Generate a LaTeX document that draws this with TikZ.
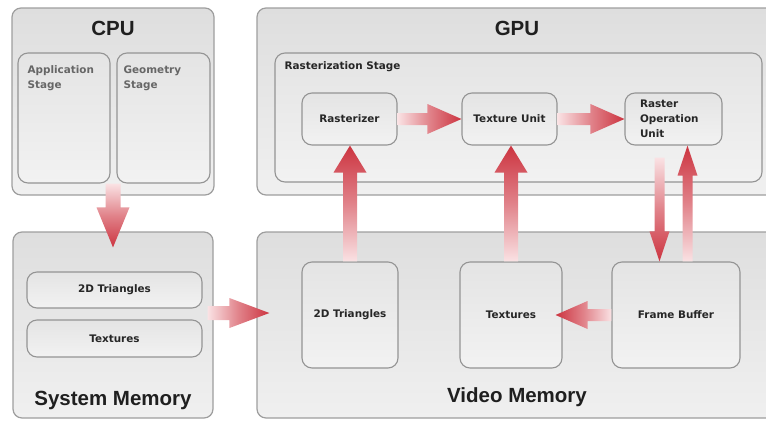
\documentclass[tikz,border=0pt]{standalone}
\usepackage{fontspec}
\setmainfont{Liberation Sans}
\newfontfamily\boxfont{DejaVu Sans}
\usepackage{tikz}
\usetikzlibrary{positioning,calc}

\definecolor{outerline}{RGB}{158,158,158}
\definecolor{innerline}{RGB}{148,148,148}
\definecolor{outertop}{RGB}{222,222,222}
\definecolor{outerbottom}{RGB}{240,240,240}
\definecolor{innertop}{RGB}{228,228,228}
\definecolor{innerbottom}{RGB}{242,242,242}
\definecolor{arrowred}{RGB}{204,52,64}
\definecolor{arrowpale}{RGB}{250,226,228}

% fat shaded arrow: shading angle, from, to, half shaft, half head, head length
\newcommand{\fatarrow}[6]{%
  \coordinate (h) at ($(#3)!#6!(#2)$);
  \shade[bottom color=arrowpale, top color=arrowred, middle color=arrowred!55!arrowpale, shading angle=#1]
    ($(#2)!#4!90:(#3)$) -- ($(h)!#4!90:(#3)$) -- ($(h)!#5!90:(#3)$) -- (#3)
    -- ($(h)!#5!-90:(#3)$) -- ($(h)!#4!-90:(#3)$) -- ($(#2)!#4!-90:(#3)$) -- cycle;}

\begin{document}
\begin{tikzpicture}
  [x=1pt, y=-1pt,
   outerbox/.style={rectangle, draw=outerline, line width=1.2pt, rounded corners=9pt,
     top color=outertop, bottom color=outerbottom, inner sep=0pt},
   innerbox/.style={rectangle, draw=innerline, line width=1.1pt, rounded corners=10pt,
     top color=innertop, bottom color=innerbottom, inner sep=0pt,
     font=\boxfont\bfseries\fontsize{10.4}{15}\selectfont, text=black!85},
   title/.style={font=\bfseries\fontsize{20.5}{24}\selectfont, text=black!88},
   caption/.style={font=\boxfont\bfseries\fontsize{10.4}{15}\selectfont, text=black!85,
     align=left, inner sep=0pt}]

  \useasboundingbox (0,0) rectangle (766,421);
  \clip (0,0) rectangle (766,421);

  % CPU
  \node[outerbox, minimum width=202pt, minimum height=187pt] (cpu) at (113,101.5) {};
  \node[title] (cputitle) at (113,28) {CPU};
  \node[innerbox, minimum width=92pt, minimum height=130pt] (app) at (64,118) {};
  \node[innerbox, minimum width=93pt, minimum height=130pt] (geo) at (163.5,118) {};
  \node[caption, text=black!60, below right=13pt and 10pt of app.north west] (applabel) {Application\\Stage};
  \node[caption, text=black!60, below right=13pt and 7pt of geo.north west] (geolabel) {Geometry\\Stage};

  % GPU
  \node[outerbox, minimum width=520pt, minimum height=187pt] (gpu) at (517,101.5) {};
  \node[title] (gputitle) at (517,28) {GPU};
  \node[innerbox, minimum width=487pt, minimum height=129pt] (rstage) at (518.5,117.5) {};
  \node[caption, below right=9pt and 10pt of rstage.north west] (rstagelabel) {Rasterization Stage};
  \node[innerbox, minimum width=95pt, minimum height=52pt] (rasterizer) at (349.5,119) {Rasterizer};
  \node[innerbox, minimum width=95pt, minimum height=52pt] (texunit) at (509.5,119) {Texture Unit};
  \node[innerbox, minimum width=97pt, minimum height=52pt, text width=67pt, align=left] (rop) at (673.5,119) {Raster\\Operation\\Unit};

  % System memory
  \node[outerbox, minimum width=200pt, minimum height=186pt] (sysmem) at (113,325) {};
  \node[innerbox, minimum width=175pt, minimum height=36pt] (systri) at (114.5,290) {2D Triangles};
  \node[innerbox, minimum width=175pt, minimum height=37pt] (systex) at (114.5,338.5) {Textures};
  \node[title] (systitle) at (113,400) {System Memory};

  % Video memory
  \node[outerbox, minimum width=520pt, minimum height=186pt] (vidmem) at (517,325) {};
  \node[innerbox, minimum width=96pt, minimum height=106pt] (vidtri) at (350,315) {2D Triangles};
  \node[innerbox, minimum width=102pt, minimum height=106pt] (vidtex) at (511,315) {Textures};
  \node[innerbox, minimum width=128pt, minimum height=106pt] (fbuf) at (676,315) {Frame Buffer};
  \node[title] (vidtitle) at (517,397) {Video Memory};

  % data flow
  \coordinate (cpuout) at ([yshift=12pt]cpu.south);
  \coordinate (sysin) at ([yshift=-16pt]sysmem.north);
  \fatarrow{180}{cpuout}{sysin}{7.5pt}{16.5pt}{40pt}
  \coordinate (sysout) at ([shift={(-6pt,12pt)}]sysmem.east);
  \coordinate (vidin) at ([shift={(13pt,12pt)}]vidmem.west);
  \fatarrow{-90}{sysout}{vidin}{7pt}{15pt}{40pt}
  \coordinate (rasin) at (vidtri.north |- rasterizer.south);
  \fatarrow{0}{vidtri.north}{rasin}{7pt}{16.5pt}{27pt}
  \coordinate (texin) at (vidtex.north |- texunit.south);
  \fatarrow{0}{vidtex.north}{texin}{7pt}{16.5pt}{27pt}
  \fatarrow{-90}{rasterizer.east}{texunit.west}{6pt}{15pt}{34pt}
  \fatarrow{-90}{texunit.east}{rop.west}{6pt}{15pt}{34pt}
  \coordinate (ropdown) at ([shift={(-14pt,-12pt)}]rop.south);
  \coordinate (fbufin) at (ropdown |- fbuf.north);
  \coordinate (ropup) at ([xshift=14pt]rop.south);
  \coordinate (fbufout) at (ropup |- fbuf.north);
  \fatarrow{180}{ropdown}{fbufin}{5pt}{10pt}{30pt}
  \fatarrow{0}{fbufout}{ropup}{5pt}{10pt}{30pt}
  \coordinate (texside) at ([xshift=-7pt]vidtex.east);
  \fatarrow{90}{fbuf.west}{texside}{6pt}{14pt}{32pt}
\end{tikzpicture}
\end{document}
